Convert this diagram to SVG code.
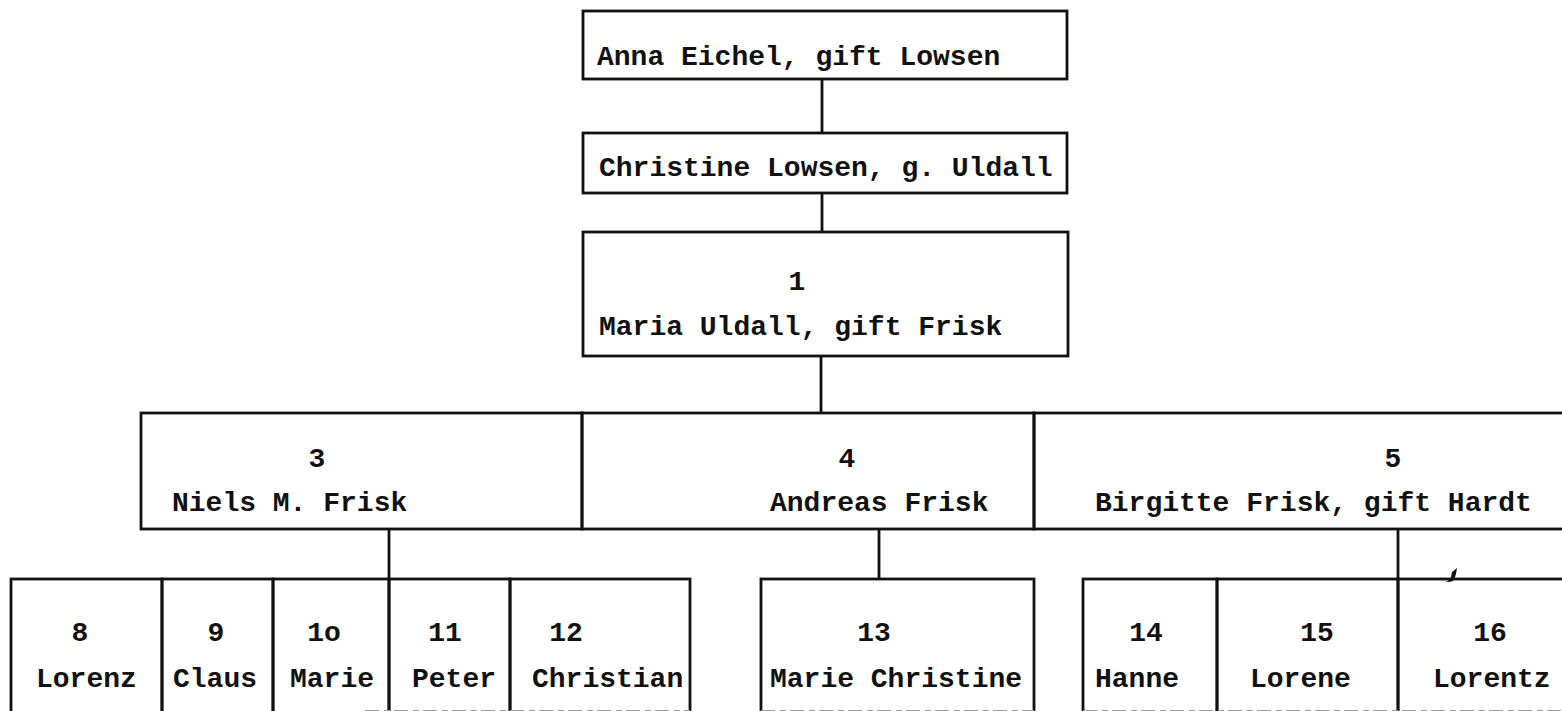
<svg xmlns="http://www.w3.org/2000/svg" width="1562" height="711" viewBox="0 0 1562 711">
<style>
.b{fill:none;stroke:#111;stroke-width:2.8}
.l{fill:none;stroke:#111;stroke-width:2.8}
.f{fill:none;stroke:#9a9a9a;stroke-width:1.2;stroke-dasharray:14 5 6 4}
.t{font-family:"Liberation Mono","Courier New",monospace;font-size:28px;font-weight:bold;fill:#111}
.c{text-anchor:middle}
</style>
<rect width="1562" height="711" fill="#fff"/>
<g id="connectors">
<line class="l" x1="822" y1="79" x2="822" y2="133"/>
<line class="l" x1="822" y1="193" x2="822" y2="232"/>
<line class="l" x1="821" y1="356" x2="821" y2="413"/>
<line class="l" x1="389" y1="529" x2="389" y2="579"/>
<line class="l" x1="879" y1="529" x2="879" y2="579"/>
<line class="l" x1="1398" y1="529" x2="1398" y2="579"/>
</g>
<g id="n-anna"><rect class="b" x="583" y="11" width="484" height="68"/><text class="t" x="597" y="65">Anna Eichel, gift Lowsen</text></g>
<g id="n-christine"><rect class="b" x="583" y="133" width="484" height="60"/><text class="t" x="599" y="176">Christine Lowsen, g. Uldall</text></g>
<g id="n-1"><rect class="b" x="583" y="232" width="485" height="124"/><text class="t c" x="797" y="290">1</text><text class="t" x="599" y="335">Maria Uldall, gift Frisk</text></g>
<g id="n-3"><rect class="b" x="141" y="413" width="441" height="116"/><text class="t c" x="317" y="467">3</text><text class="t" x="172" y="511">Niels M. Frisk</text></g>
<g id="n-4"><rect class="b" x="582" y="413" width="452" height="116"/><text class="t c" x="847" y="467">4</text><text class="t" x="770" y="511">Andreas Frisk</text></g>
<g id="n-5"><rect class="b" x="1034" y="413" width="600" height="116"/><text class="t c" x="1393" y="467">5</text><text class="t" x="1095" y="511">Birgitte Frisk, gift Hardt</text></g>
<g id="n-8"><rect class="b" x="11" y="579" width="151" height="150"/><text class="t c" x="80" y="641">8</text><text class="t" x="36" y="687">Lorenz</text></g>
<g id="n-9"><rect class="b" x="162" y="579" width="111" height="150"/><text class="t c" x="216" y="641">9</text><text class="t" x="173" y="687">Claus</text></g>
<g id="n-10"><rect class="b" x="273" y="579" width="116" height="150"/><text class="t c" x="324" y="641">1o</text><text class="t" x="290" y="687">Marie</text></g>
<g id="n-11"><rect class="b" x="389" y="579" width="121" height="150"/><text class="t c" x="445" y="641">11</text><text class="t" x="412" y="687">Peter</text></g>
<g id="n-12"><rect class="b" x="510" y="579" width="180" height="150"/><text class="t c" x="566" y="641">12</text><text class="t" x="532" y="687">Christian</text></g>
<g id="n-13"><rect class="b" x="761" y="579" width="273" height="150"/><text class="t c" x="874" y="641">13</text><text class="t" x="770" y="687">Marie Christine</text></g>
<g id="n-14"><rect class="b" x="1083" y="579" width="134" height="150"/><text class="t c" x="1146" y="641">14</text><text class="t" x="1095" y="687">Hanne</text></g>
<g id="n-15"><rect class="b" x="1217" y="579" width="181" height="150"/><text class="t c" x="1317" y="641">15</text><text class="t" x="1250" y="687">Lorene</text></g>
<g id="n-16"><rect class="b" x="1398" y="579" width="200" height="150"/><text class="t c" x="1490" y="641">16</text><text class="t" x="1433" y="687">Lorentz</text></g>
<path d="M1440,580 q8,4 11,-3 l1,-5 l5,-4 l-1,6 l-2,6 q-4,4 -14,0 z" fill="#111"/>
<line class="f" x1="365" y1="710.5" x2="690" y2="710.5"/>
<line class="f" x1="761" y1="710.5" x2="1034" y2="710.5"/>
<line class="f" x1="1083" y1="710.5" x2="1562" y2="710.5"/>
</svg>
